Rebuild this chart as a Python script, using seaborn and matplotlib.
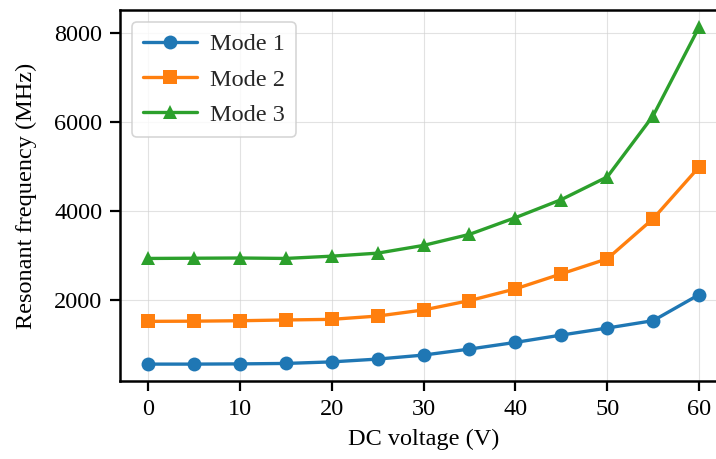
import matplotlib
matplotlib.use("Agg")
import matplotlib.pyplot as plt
import numpy as np
import pandas as pd
import seaborn as sns

# Datos
voltage = [0, 5, 10, 15, 20, 25, 30, 35, 40, 45, 50, 55, 60]
mode1 = [550, 550, 555, 565, 600, 663, 753, 888, 1038, 1203, 1361, 1527, 2113]
mode2 = [1511, 1515, 1525, 1542, 1556, 1630, 1767, 1977, 2241, 2579, 2917, 3820, 4983]
mode3 = [2925, 2930, 2935, 2925, 2976, 3044, 3218, 3466, 3842, 4248, 4758, 6136, 8128]
mode_names = ["Mode 1", "Mode 2", "Mode 3"]

df = pd.DataFrame({
    "DC voltage (V)": voltage * 3,
    "Resonant frequency (MHz)": mode1 + mode2 + mode3,
    "Mode": np.repeat(mode_names, len(voltage)),
})

sns.set_theme(style="ticks")
plt.rcParams["font.family"] = ["Liberation Serif", "DejaVu Serif"]

fig = plt.figure(figsize=(7.16, 4.59), dpi=100)
ax = fig.add_axes([0.168, 0.17, 0.847, 0.808])

sns.lineplot(data=df, x="DC voltage (V)", y="Resonant frequency (MHz)",
             hue="Mode", style="Mode", markers=["o", "s", "^"], dashes=False,
             palette=["#1f77b4", "#ff7f0e", "#2ca02c"],
             linewidth=2.4, markersize=10, markeredgewidth=0, ax=ax)

ax.set_xticks([0, 10, 20, 30, 40, 50, 60])
ax.set_yticks([2000, 4000, 6000, 8000])
ax.grid(True, color="#d0d0d0", linewidth=0.8, alpha=0.6)
ax.tick_params(labelsize=17.5, width=1.6, length=7, pad=6, color="black", labelcolor="black")
ax.set_xlabel("DC voltage (V)", fontsize=17.5, color="black", labelpad=6)
ax.set_ylabel("Resonant frequency (MHz)", fontsize=17.5, color="black", labelpad=12)
for s in ax.spines.values():
    s.set_linewidth(1.8)
    s.set_color("black")

leg = ax.legend(loc="upper left", fontsize=17.5, frameon=True, handlelength=2.2,
                borderpad=0.45, labelspacing=0.55, handletextpad=0.55)
leg.get_frame().set_edgecolor("#cccccc")
leg.get_frame().set_linewidth(1.2)

fig.savefig("out.png", dpi=100)
